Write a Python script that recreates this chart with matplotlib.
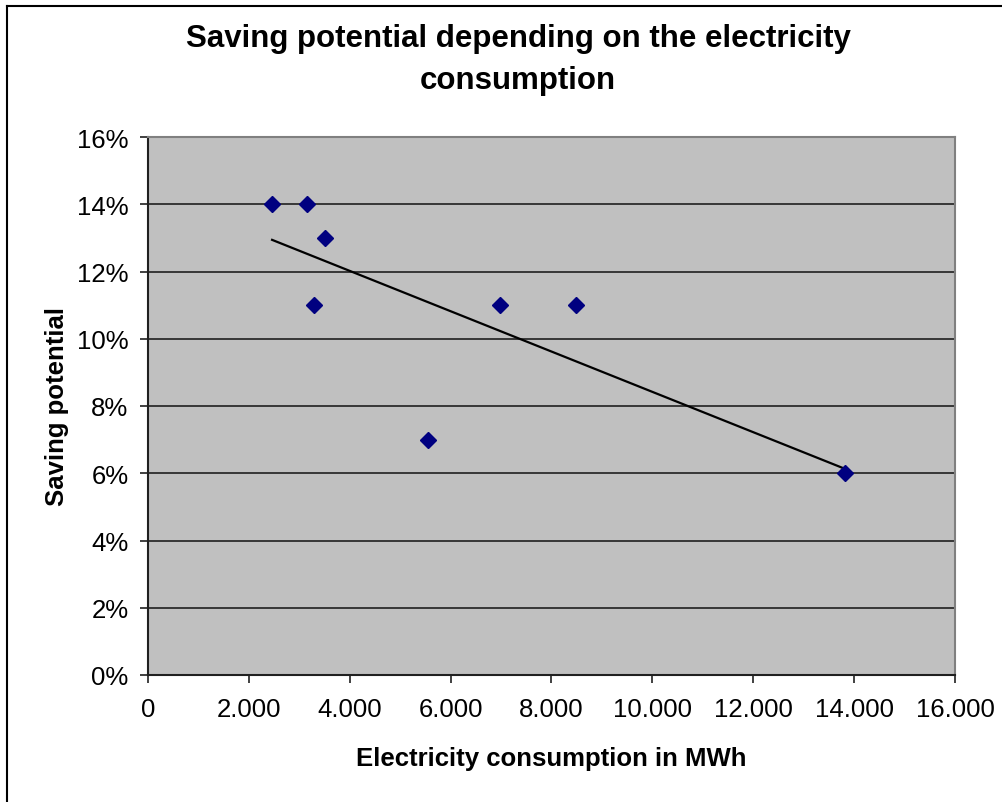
import numpy as np
import matplotlib
matplotlib.use("Agg")
from matplotlib import pyplot as plt
from matplotlib.lines import Line2D
from matplotlib.ticker import FuncFormatter

# consumption in MWh and saving potential in %
consumption = [2460, 3150, 3290, 3510, 5550, 6980, 8490, 13820]
saving = [14, 14, 11, 13, 7, 11, 11, 6]
x_ticks = [0, 2000, 4000, 6000, 8000, 10000, 12000, 14000, 16000]
y_ticks = [0, 2, 4, 6, 8, 10, 12, 14, 16]

plt.rcParams['font.family'] = ['Liberation Sans', 'DejaVu Sans']

fig = plt.figure(figsize=(10.03, 8.03), dpi=100)
ax = fig.add_axes([148/1003, 1 - 676/803, (955-148)/1003, (676-138)/803])
ax.set_facecolor('#C0C0C0')

# outer chart frame (left and top edges only visible)
fig.add_artist(Line2D([7/1003, 7/1003], [0, 1 - 7/803], transform=fig.transFigure, color='black', lw=1.5))
fig.add_artist(Line2D([7/1003, 1], [1 - 7/803, 1 - 7/803], transform=fig.transFigure, color='black', lw=1.5))

for yv in y_ticks[1:-1]:
    ax.axhline(yv, color='#202020', lw=1.2, zorder=1)

# linear trend line
k, b = np.polyfit(consumption, saving, 1)
xs = np.array([min(consumption), max(consumption)])
ax.plot(xs, k*xs + b, color='black', lw=1.6, zorder=2)

ax.plot(consumption, saving, linestyle='none', marker='D', markersize=8.5,
        color='#000080', zorder=3)

ax.set_xlim(0, 16000)
ax.set_ylim(0, 16)
ax.set_xticks(x_ticks)
ax.set_yticks(y_ticks)
ax.xaxis.set_major_formatter(FuncFormatter(lambda v, p: '0' if v == 0 else f'{int(v):,}'.replace(',', '.')))
ax.yaxis.set_major_formatter(FuncFormatter(lambda v, p: f'{int(v)}%'))
ax.tick_params(direction='out', length=6, width=1.2, labelsize=18.5, color='#202020', pad=8)
ax.tick_params(axis='x', pad=10)

for s in ['left', 'bottom']:
    ax.spines[s].set_color('#202020')
    ax.spines[s].set_linewidth(1.5)
for s in ['top', 'right']:
    ax.spines[s].set_color('#808080')
    ax.spines[s].set_linewidth(1.5)

ax.set_xlabel('Electricity consumption in MWh', fontsize=18.5, fontweight='bold', labelpad=18)
ax.set_ylabel('Saving potential', fontsize=18.5, fontweight='bold', labelpad=6)
fig.text(518/1003, 1 - 60/803, 'Saving potential depending on the electricity\nconsumption',
         ha='center', va='center', fontsize=22.5, fontweight='bold', linespacing=1.5)

fig.savefig('out.png', dpi=100)
